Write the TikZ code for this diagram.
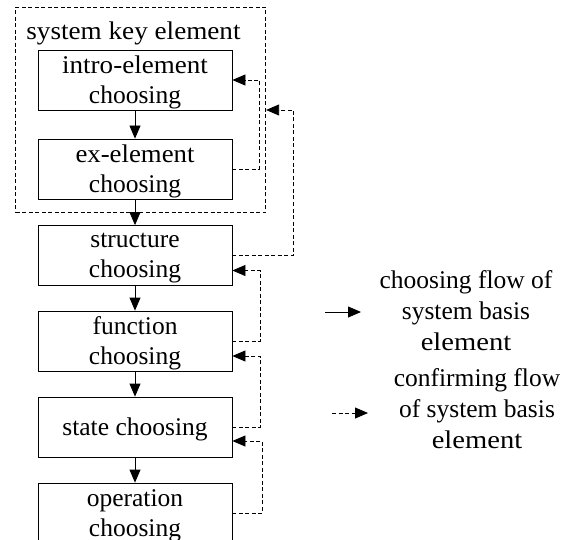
\documentclass[tikz,border=0pt]{standalone}
\usepackage{fontspec}
\usepackage{graphicx}
\setmainfont{Liberation Serif}
\usetikzlibrary{arrows.meta}
\newcommand{\widen}[2]{\scalebox{#1}[1]{#2}}
\begin{document}
\begin{tikzpicture}[x=1pt,y=-1pt,
  every node/.style={font=\fontsize{25.5}{30}\selectfont},
  stage/.style={draw, line width=0.8pt, minimum width=194pt, minimum height=60pt,
                align=center, inner sep=0pt, text depth=0pt},
  legendtext/.style={font=\fontsize{25.5}{31}\selectfont, align=center, text depth=0pt},
  flow/.style={line width=0.8pt, -{Triangle[length=13pt,width=11pt]}},
  confirm/.style={flow, dash pattern=on 4pt off 2.5pt},
  keyframe/.style={draw, line width=0.8pt, dash pattern=on 4pt off 2.5pt,
                   minimum width=250pt, minimum height=205.5pt, inner sep=0pt},
]
\useasboundingbox (0,0) rectangle (570,540);
\clip (0,0) rectangle (570,540);

% group of the key elements
\node[keyframe] (keybox) at (140.7,110) {};
\node[anchor=base] (keytitle) at (133.5,39.5) {\widen{1.065}{system key element}};

% choosing stages
\node[stage] (intro)  at (135,80)    {\widen{1.06}{intro-element}\\choosing};
\node[stage] (ex)     at (135,169)   {\widen{1.05}{ex-element}\\choosing};
\node[stage] (struct) at (135,255.5) {structure\\choosing};
\node[stage] (func)   at (135,341)   {function\\choosing};
\node[stage] (state)  at (135,427)   {state choosing};
\node[stage] (oper)   at (135,513)   {operation\\choosing};

% choosing flow
\draw[flow] (intro.south)  -- (ex.north);
\draw[flow] (ex.south)     -- (struct.north);
\draw[flow] (struct.south) -- (func.north);
\draw[flow] (func.south)   -- (state.north);
\draw[flow] (state.south)  -- (oper.north);

% confirming flow
\draw[confirm] (ex.east)     -- ++(27,0) |- (intro.east);
\draw[confirm] (struct.east) -- ++(61,0) |- (keybox.east);
\draw[confirm] (func.east)   -- ++(28,0) |- ([yshift=-15pt]struct.east);
\draw[confirm] (state.east)  -- ++(28,0) |- ([yshift=-15pt]func.east);
\draw[confirm] (oper.east)   -- ++(30,0) |- ([yshift=-14pt]state.east);

% legend
\coordinate (s0) at (325,312);
\coordinate (s1) at (361,312);
\draw[flow] (s0) -- (s1);
\node[legendtext] (slabel) at (466,310.6) {choosing flow of\\system basis\\\widen{1.12}{element}};

\coordinate (c0) at (332,413);
\coordinate (c1) at (368,413);
\draw[confirm] (c0) -- (c1);
\node[legendtext] (clabel) at (477,408.3) {confirming flow\\of system basis\\\widen{1.12}{element}};
\end{tikzpicture}
\end{document}
